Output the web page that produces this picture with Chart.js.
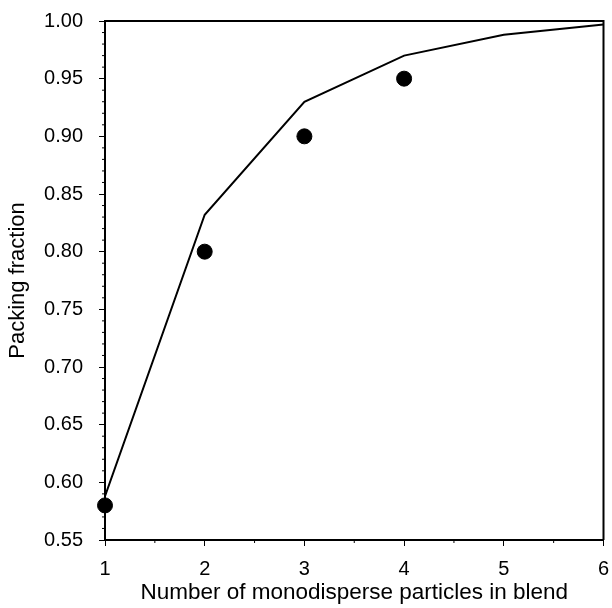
<!DOCTYPE html>
<html>
<head>
<meta charset="utf-8">
<script src="https://cdn.jsdelivr.net/npm/chart.js@4/dist/chart.umd.min.js"></script>
<style>
html,body{margin:0;padding:0;background:#fff;}
#wrap{width:612px;height:608px;}
</style>
</head>
<body>
<div id="wrap"><canvas id="c" width="612" height="608"></canvas></div>
<script>
const nParticles = [1, 2, 3, 4, 5, 6];
const modelFraction = [0.588, 0.832, 0.930, 0.970, 0.988, 0.997];
const measuredN = [1, 2, 3, 4];
const measuredFraction = [0.58, 0.80, 0.90, 0.95];
const xTickValues = [1, 2, 3, 4, 5, 6];
const yTickLabels = ['0.55','0.60','0.65','0.70','0.75','0.80','0.85','0.90','0.95','1.00'];

const FONT = "'Liberation Sans', Arial, sans-serif";

const boxAndMinor = {
  id: 'boxAndMinor',
  afterDraw(chart) {
    const ctx = chart.ctx, a = chart.chartArea;
    const xs = chart.scales.x, ys = chart.scales.y;
    ctx.save();
    ctx.strokeStyle = '#000';
    ctx.lineWidth = 2;
    ctx.beginPath();
    ctx.moveTo(a.left, a.top); ctx.lineTo(a.right, a.top); ctx.lineTo(a.right, a.bottom);
    ctx.stroke();
    ctx.lineWidth = 1;
    ctx.beginPath();
    for (let v = 1.5; v < 6; v += 1) {
      const px = xs.getPixelForValue(v);
      ctx.moveTo(px, a.bottom); ctx.lineTo(px, a.bottom + 3);
    }
    for (let i = 0; i <= 45; i++) {
      if (i % 5 === 0) continue;
      const py = ys.getPixelForValue(0.55 + i * 0.01);
      ctx.moveTo(a.left - 3, py); ctx.lineTo(a.left, py);
    }
    ctx.stroke();
    ctx.restore();
  }
};

new Chart(document.getElementById('c'), {
  type: 'scatter',
  data: {
    datasets: [
      {
        type: 'line',
        data: nParticles.map((x, i) => ({x: x, y: modelFraction[i]})),
        borderColor: '#000',
        borderWidth: 2,
        pointRadius: 0,
        tension: 0,
        fill: false
      },
      {
        data: measuredN.map((x, i) => ({x: x, y: measuredFraction[i]})),
        backgroundColor: '#000',
        borderColor: '#000',
        pointRadius: 7.5,
        clip: false
      }
    ]
  },
  options: {
    responsive: false,
    animation: false,
    plugins: { legend: { display: false }, tooltip: { enabled: false } },
    layout: { padding: { top: 21, right: 6, left: 5, bottom: 2 } },
    scales: {
      x: {
        type: 'linear', min: 1, max: 6,
        afterBuildTicks: (s) => { s.ticks = xTickValues.map(v => ({value: v})); },
        afterFit: (s) => { s.height = 66; s.paddingLeft = 0; s.paddingRight = 0; },
        grid: { drawOnChartArea: false, drawTicks: true, tickLength: 6, color: '#000' },
        border: { display: true, color: '#000', width: 2 },
        ticks: { color: '#000', font: { family: FONT, size: 20 }, padding: 11, maxRotation: 0 },
        title: { display: true, text: 'Number of monodisperse particles in blend', color: '#000', font: { family: FONT, size: 22.5 }, padding: { top: 0, bottom: 0 } }
      },
      y: {
        type: 'linear', min: 0.55, max: 1.0,
        afterBuildTicks: (s) => { s.ticks = yTickLabels.map(v => ({value: parseFloat(v)})); },
        afterFit: (s) => { s.width = 100; s.paddingTop = 0; s.paddingBottom = 0; },
        grid: { drawOnChartArea: false, drawTicks: true, tickLength: 6, color: '#000' },
        border: { display: true, color: '#000', width: 2 },
        ticks: { color: '#000', font: { family: FONT, size: 20 }, padding: 16,
          callback: (v) => yTickLabels.find(l => Math.abs(parseFloat(l) - v) < 1e-6) },
        title: { display: true, text: 'Packing fraction', color: '#000', font: { family: FONT, size: 22 }, padding: { top: 0, bottom: 0 } }
      }
    }
  },
  plugins: [boxAndMinor]
});
</script>
</body>
</html>
